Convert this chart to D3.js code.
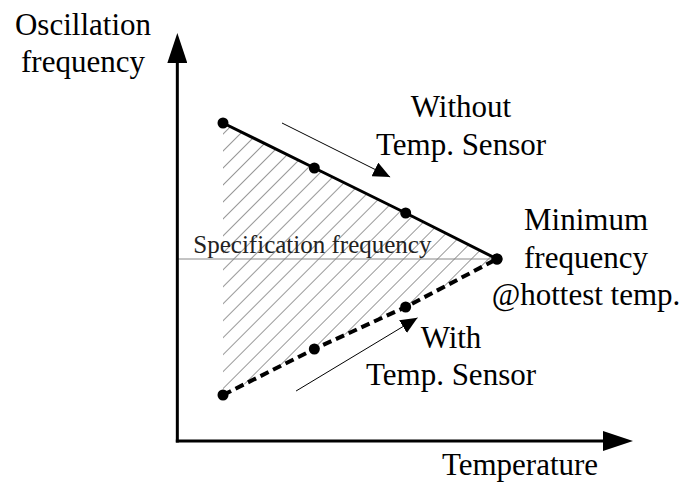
<!DOCTYPE html>
<html>
<head>
<meta charset="utf-8">
<script src="https://cdn.jsdelivr.net/npm/d3@7"></script>
<style>
  html, body { margin: 0; padding: 0; background: #fff; }
  svg { display: block; }
  text { font-family: "Liberation Serif", "Times New Roman", serif; fill: #000; }
</style>
</head>
<body>
<script>
// ---- data (arbitrary units) ----
const temperatureSteps = [0, 1, 2, 3];
const withoutSensor = [79.5, 68.25, 57, 45.5];
const withSensor = [11.5, 23, 33.5, 45.5];
const specificationFrequency = 45.5;
const axisLabels = { y: ["Oscillation", "frequency"], x: ["Temperature"] };
const annotationTexts = {
  without: ["Without", "Temp. Sensor"],
  withS: ["With", "Temp. Sensor"],
  minimum: ["Minimum", "frequency", "@hottest temp."],
  spec: "Specification frequency"
};
// annotation arrows in data units [x, y]
const withoutArrow = [[0.646, 79.5], [1.83, 66]];
const withArrow = [[0.80, 12.5], [2.13, 30.8]];

// ---- layout ----
const W = 684, H = 482;
const svg = d3.select("body").append("svg").attr("width", W).attr("height", H);

const x = d3.scaleLinear().domain([0, 3]).range([223, 497]);
const y = d3.scaleLinear().domain([0, 100]).range([441, 41]);

const axisX0 = x(-0.5), axisY0 = y(0);
const defs = svg.append("defs");

// hatch pattern
defs.append("pattern")
  .attr("id", "hatch").attr("patternUnits", "userSpaceOnUse")
  .attr("width", 12).attr("height", 12)
  .attr("patternTransform", "rotate(45)")
  .append("line").attr("x1", 0).attr("y1", 0).attr("x2", 0).attr("y2", 12)
  .attr("stroke", "#444").attr("stroke-width", 1.1);

// arrow markers
defs.append("marker").attr("id", "bigArrow")
  .attr("viewBox", "0 0 30 20").attr("refX", 0).attr("refY", 10)
  .attr("markerWidth", 30).attr("markerHeight", 20)
  .attr("markerUnits", "userSpaceOnUse").attr("orient", "auto")
  .append("path").attr("d", "M0,0 L30,10 L0,20 Z").attr("fill", "#000");
defs.append("marker").attr("id", "smallArrow")
  .attr("viewBox", "0 0 17 15").attr("refX", 17).attr("refY", 7.5)
  .attr("markerWidth", 17).attr("markerHeight", 15)
  .attr("markerUnits", "userSpaceOnUse").attr("orient", "auto")
  .append("path").attr("d", "M0,0 L17,7.5 L0,15 Z").attr("fill", "#000");

// hatched region (triangle between the two curves)
const region = temperatureSteps.map((t, i) => [x(t), y(withoutSensor[i])])
  .concat(temperatureSteps.slice().reverse().map((t, j) => {
    const i = temperatureSteps.length - 1 - j;
    return [x(t), y(withSensor[i])];
  }));
svg.append("path")
  .attr("d", d3.line()(region) + "Z")
  .attr("fill", "url(#hatch)").attr("stroke", "none");

// specification frequency line
svg.append("line")
  .attr("x1", axisX0).attr("x2", x(3) - 4)
  .attr("y1", y(specificationFrequency)).attr("y2", y(specificationFrequency))
  .attr("stroke", "#888").attr("stroke-width", 1);
svg.append("text")
  .attr("x", axisX0 + 16).attr("y", y(specificationFrequency) - 6)
  .attr("font-size", 25).style("fill", "#222")
  .text(annotationTexts.spec);

// axes
svg.append("line")
  .attr("x1", axisX0).attr("y1", axisY0 + 1.5).attr("x2", axisX0).attr("y2", 63)
  .attr("stroke", "#000").attr("stroke-width", 3)
  .attr("marker-end", "url(#bigArrow)");
svg.append("line")
  .attr("x1", axisX0 - 1.5).attr("y1", axisY0).attr("x2", 603).attr("y2", axisY0)
  .attr("stroke", "#000").attr("stroke-width", 3)
  .attr("marker-end", "url(#bigArrow)");

// series lines
const line = d3.line().x(d => x(d[0])).y(d => y(d[1]));
svg.append("path")
  .attr("d", line(temperatureSteps.map((t, i) => [t, withoutSensor[i]])))
  .attr("fill", "none").attr("stroke", "#000").attr("stroke-width", 3);
svg.append("path")
  .attr("d", line(temperatureSteps.map((t, i) => [t, withSensor[i]])))
  .attr("fill", "none").attr("stroke", "#000").attr("stroke-width", 4)
  .attr("stroke-dasharray", "9,5");

// points
[withoutSensor, withSensor].forEach(series => {
  svg.append("g").selectAll("circle")
    .data(temperatureSteps.map((t, i) => [t, series[i]]))
    .join("circle")
    .attr("cx", d => x(d[0])).attr("cy", d => y(d[1]))
    .attr("r", 5.5).attr("fill", "#000");
});

// annotation arrows
[withoutArrow, withArrow].forEach(a => {
  svg.append("line")
    .attr("x1", x(a[0][0])).attr("y1", y(a[0][1]))
    .attr("x2", x(a[1][0])).attr("y2", y(a[1][1]))
    .attr("stroke", "#000").attr("stroke-width", 1)
    .attr("marker-end", "url(#smallArrow)");
});

// text blocks
function block(lines, cx, baseline, step, size) {
  svg.append("g").selectAll("text").data(lines).join("text")
    .attr("x", cx).attr("y", (d, i) => baseline + i * step)
    .attr("text-anchor", "middle").attr("font-size", size)
    .text(d => d);
}
block(axisLabels.y, 83, 35, 37, 31);
block(axisLabels.x, 520, 475, 37, 31);
block(annotationTexts.without, 461, 117, 38, 31);
block(annotationTexts.minimum, 586, 230, 37.5, 31);
block(annotationTexts.withS, 451, 348, 37, 31);
</script>
</body>
</html>
